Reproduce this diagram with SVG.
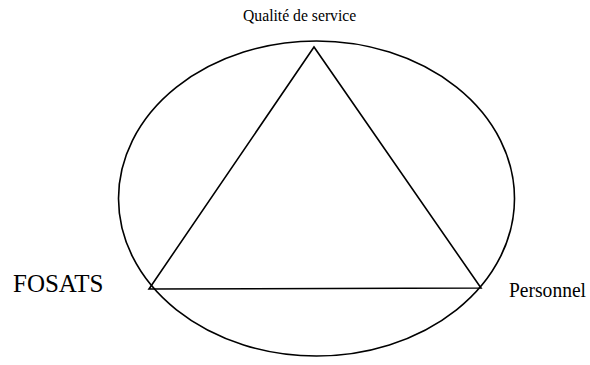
<svg xmlns="http://www.w3.org/2000/svg" width="590" height="365" viewBox="0 0 590 365">
<style>
.s{fill:none;stroke:#000;stroke-width:1.6}
.t{font-family:'Liberation Serif',serif;fill:#000}
</style>
<rect width="590" height="365" fill="#fff"/>
<g id="cercle"><ellipse class="s" cx="316.5" cy="198.5" rx="198" ry="157.5"/></g>
<g id="connecteurs"><polygon class="s" points="314,47 149,289 481,288"/></g>
<g id="qualite"><text class="t" x="243" y="21" font-size="15.7">Qualité de service</text></g>
<g id="fosats"><text class="t" x="13" y="292" font-size="25">FOSATS</text></g>
<g id="personnel"><text class="t" x="509" y="297" font-size="20" textLength="77" lengthAdjust="spacingAndGlyphs">Personnel</text></g>
</svg>
